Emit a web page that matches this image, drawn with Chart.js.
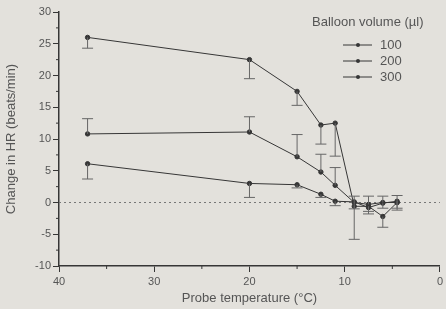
<!DOCTYPE html>
<html>
<head>
<meta charset="utf-8">
<script src="https://cdn.jsdelivr.net/npm/chart.js@4"></script>
<style>
  html, body { margin: 0; padding: 0; background: #e3e1dc; }
  #wrap { width: 446px; height: 309px; }
</style>
</head>
<body>
<div id="wrap"><canvas id="myChart"></canvas></div>
<script>
// probe temperature (deg C)
const temps = [37, 20, 15, 12.5, 11, 9, 7.5, 6, 4.5];
const volumes = ['100', '200', '300'];

// change in HR (beats/min)
const hr100 = [6.1, 3.0, 2.8, 1.3, 0.2, 0.1, -0.8, -0.1, 0.2];
const hr200 = [10.8, 11.1, 7.2, 4.8, 2.7, 0, -0.3, 0, 0];
const hr300 = [26, 22.5, 17.5, 12.2, 12.5, -0.6, -0.6, -2.2, 0];

// error bar ends (one-sided)
const err100 = [3.7, 0.8, 2.3, 0.8, -0.5, -1.0, -1.4, -0.9, -0.9];
const err200 = [13.2, 13.5, 10.7, 7.6, 5.5, 1.0, 1.0, 1.0, 1.1];
const err300 = [24.3, 19.5, 15.3, 9.2, 7.3, -5.8, -1.8, -3.9, -1.2];

const series = [hr100, hr200, hr300];
const errs = [err100, err200, err300];

const ink = '#363636';
const textCol = '#555';

const errorBars = {
  id: 'errorBars',
  afterDatasetsDraw(chart) {
    const c = chart.ctx;
    const y = chart.scales.y;
    c.save();
    c.strokeStyle = '#666';
    c.lineWidth = 1;
    errs.forEach((e, i) => {
      const meta = chart.getDatasetMeta(i);
      meta.data.forEach((pt, j) => {
        if (e[j] == null) return;
        const y1 = y.getPixelForValue(e[j]);
        c.beginPath();
        c.moveTo(pt.x, pt.y);
        c.lineTo(pt.x, y1);
        c.moveTo(pt.x - 5.5, y1);
        c.lineTo(pt.x + 5.5, y1);
        c.stroke();
      });
    });
    c.restore();
  }
};

const minorTicks = {
  id: 'minorTicks',
  afterDraw(chart) {
    const c = chart.ctx;
    const xs = chart.scales.x, ys = chart.scales.y;
    c.save();
    c.strokeStyle = ink;
    c.lineWidth = 1;
    for (let v = 35; v > 0; v -= 10) {
      const px = xs.getPixelForValue(v);
      c.beginPath();
      c.moveTo(px, xs.top);
      c.lineTo(px, xs.top + 3);
      c.stroke();
    }
    for (let v = -7.5; v < 30; v += 5) {
      const py = ys.getPixelForValue(v);
      c.beginPath();
      c.moveTo(ys.right, py);
      c.lineTo(ys.right - 3, py);
      c.stroke();
    }
    // legend
    const lx = 312, ly = 22;
    c.fillStyle = textCol;
    c.font = '13px "Liberation Sans", Arial, sans-serif';
    c.textBaseline = 'middle';
    c.textAlign = 'left';
    c.fillText('Balloon volume (\u00b5l)', lx, ly);
    volumes.forEach((v, i) => {
      const yy = 45 + i * 16;
      c.strokeStyle = ink;
      c.beginPath();
      c.moveTo(343, yy);
      c.lineTo(372, yy);
      c.stroke();
      c.fillStyle = ink;
      c.beginPath();
      c.arc(358, yy, 2, 0, Math.PI * 2);
      c.fill();
      c.fillStyle = textCol;
      c.fillText(v, 380, yy);
    });
    c.restore();
  }
};

const datasets = series.map((s, i) => ({
  label: volumes[i],
  data: temps.map((t, j) => ({ x: t, y: s[j] })),
  borderColor: ink,
  backgroundColor: ink,
  borderWidth: 1,
  pointRadius: 2.2,
  pointHoverRadius: 2.2,
  tension: 0
}));

datasets.push({
  label: 'zero',
  data: [{ x: 40, y: 0 }, { x: 0, y: 0 }],
  borderColor: '#777',
  borderWidth: 1,
  borderDash: [2, 3],
  pointRadius: 0
});

const ctx = document.getElementById('myChart');

new Chart(ctx, {
  type: 'line',
  data: { datasets: datasets },
  options: {
    responsive: true,
    maintainAspectRatio: false,
    animation: false,
    layout: { padding: { top: 12, right: 3, left: 0, bottom: 0 } },
    plugins: {
      legend: { display: false },
      tooltip: { enabled: false }
    },
    scales: {
      x: {
        type: 'linear',
        reverse: true,
        min: 0,
        max: 40,
        afterFit: (s) => { s.height = 43; },
        border: { color: ink, width: 1.5 },
        grid: { drawOnChartArea: false, tickLength: 6, color: ink },
        ticks: {
          stepSize: 10,
          color: textCol,
          padding: 3,
          font: { size: 11, family: '"Liberation Sans", Arial, sans-serif' }
        },
        title: {
          display: true,
          text: 'Probe temperature (\u00b0C)',
          color: textCol,
          padding: { top: 0, bottom: 3 },
          font: { size: 13, family: '"Liberation Sans", Arial, sans-serif' }
        }
      },
      y: {
        min: -10,
        max: 30,
        afterFit: (s) => { s.width = 59; },
        border: { color: ink, width: 1.5 },
        grid: { drawOnChartArea: false, tickLength: 6, color: ink },
        ticks: {
          stepSize: 5,
          color: textCol,
          padding: 2,
          font: { size: 11, family: '"Liberation Sans", Arial, sans-serif' }
        },
        title: {
          display: true,
          text: 'Change in HR (beats/min)',
          color: textCol,
          padding: { top: 4, bottom: 0 },
          font: { size: 13, family: '"Liberation Sans", Arial, sans-serif' }
        }
      }
    }
  },
  plugins: [errorBars, minorTicks]
});
</script>
</body>
</html>
